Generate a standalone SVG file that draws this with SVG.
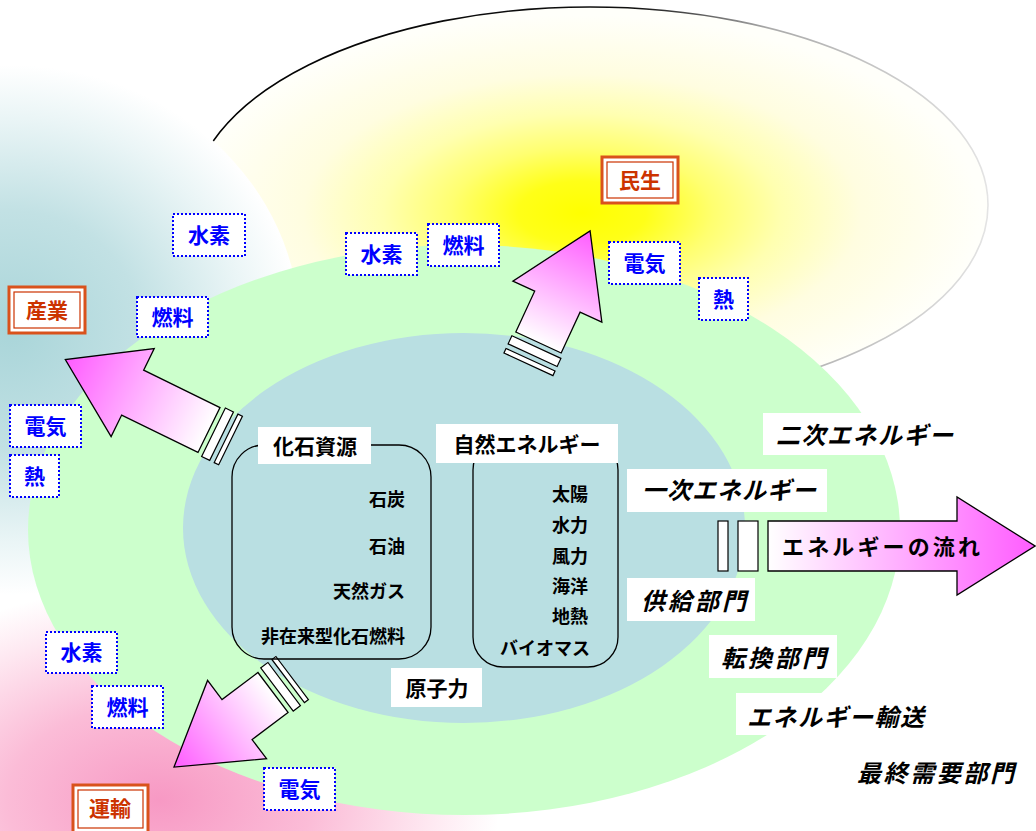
<svg xmlns="http://www.w3.org/2000/svg" width="1036" height="831" viewBox="0 0 1036 831">
<defs>
  <radialGradient id="gYellow" cx="0.49" cy="0.52" r="0.5">
    <stop offset="0" stop-color="#ffff00"/>
    <stop offset="0.16" stop-color="#ffff18"/>
    <stop offset="0.33" stop-color="#ffff70"/>
    <stop offset="0.5" stop-color="#ffffb0"/>
    <stop offset="0.7" stop-color="#fffde0"/>
    <stop offset="1" stop-color="#fffffa"/>
  </radialGradient>
  <linearGradient id="gOutline" gradientUnits="userSpaceOnUse" x1="200" y1="0" x2="990" y2="0">
    <stop offset="0" stop-color="#000"/>
    <stop offset="0.55" stop-color="#111"/>
    <stop offset="0.72" stop-color="#aaa"/>
    <stop offset="1" stop-color="#e4e4e4"/>
  </linearGradient>
  <radialGradient id="gTeal" cx="0.5" cy="0.5" r="0.5">
    <stop offset="0" stop-color="#a9d5d9"/>
    <stop offset="0.45" stop-color="#c2e1e4"/>
    <stop offset="0.8" stop-color="#eaf5f6"/>
    <stop offset="1" stop-color="#ffffff"/>
  </radialGradient>
  <radialGradient id="gPink" cx="0.5" cy="0.5" r="0.5">
    <stop offset="0" stop-color="#f799c4"/>
    <stop offset="0.45" stop-color="#fbbcd7"/>
    <stop offset="0.8" stop-color="#fee8f1"/>
    <stop offset="1" stop-color="#ffffff"/>
  </radialGradient>
  <linearGradient id="gArrow" x1="0" y1="0" x2="1" y2="0">
    <stop offset="0" stop-color="#ffffff"/>
    <stop offset="1" stop-color="#ff5cff"/>
  </linearGradient>
  <style>
    text { font-family: 'Liberation Sans', 'Noto Sans CJK JP', sans-serif; font-weight: bold; dominant-baseline: central; }
    .blue rect { fill: #ffffff; stroke: #0000ff; stroke-width: 2; stroke-dasharray: 2 2; }
    .blue text { fill: #0000ff; font-size: 21px; text-anchor: middle; }
    .sector .o { fill: #ffffff; stroke: #d9521c; stroke-width: 3; }
    .sector .i { fill: none; stroke: #cc3300; stroke-width: 1.2; }
    .sector text { fill: #cc3300; font-size: 21px; text-anchor: middle; }
    .wbox { fill: #ffffff; }
    .head { fill: #000; font-size: 21px; text-anchor: middle; }
    .item { fill: #000; font-size: 18px; text-anchor: end; }
    .ital { fill: #000; font-size: 24px; font-style: italic; }
    .frame { fill: none; stroke: #000; stroke-width: 1.3; }
    .arr { fill: url(#gArrow); stroke: #000; stroke-width: 1.3; stroke-linejoin: miter; }
    .bar { fill: #ffffff; stroke: #000; stroke-width: 1.2; }
  </style>
</defs>

<rect width="1036" height="831" fill="#ffffff"/>

<g id="background">
  <ellipse cx="590" cy="205" rx="398" ry="198" fill="url(#gYellow)" stroke="url(#gOutline)" stroke-width="1.6"/>
  <ellipse cx="10" cy="330" rx="290" ry="265" fill="url(#gTeal)"/>
  <ellipse cx="160" cy="800" rx="340" ry="215" fill="url(#gPink)"/>
  <ellipse cx="464" cy="530" rx="436" ry="285" fill="#ccffcc"/>
  <ellipse cx="464" cy="528" rx="281" ry="195" fill="#b9dfe2"/>
</g>

<g id="connectors">
  <g id="arrow-sangyo" transform="translate(209,430) rotate(206.1)">
    <rect class="bar" x="-24" y="-27" width="5" height="54"/>
    <rect class="bar" x="-14" y="-27" width="9" height="54"/>
    <polygon class="arr" points="0,-25 85,-25 85,-49 160,0 85,49 85,25 0,25"/>
  </g>
  <g id="arrow-minsei" transform="translate(538.5,342.5) rotate(-65.2)">
    <rect class="bar" x="-24" y="-27" width="5" height="54"/>
    <rect class="bar" x="-14" y="-27" width="9" height="54"/>
    <polygon class="arr" points="0,-25 45,-25 45,-49 123,0 45,49 45,25 0,25"/>
  </g>
  <g id="arrow-yuso" transform="translate(273,692.5) rotate(143)">
    <rect class="bar" x="-24" y="-27" width="5" height="54"/>
    <rect class="bar" x="-14" y="-27" width="9" height="54"/>
    <polygon class="arr" points="0,-25 45,-25 45,-49 124,0 45,49 45,25 0,25"/>
  </g>
</g>

<g id="legend-flow" transform="translate(768,546)">
  <rect class="bar" x="-50" y="-25" width="10" height="50"/>
  <rect class="bar" x="-30" y="-25" width="20" height="50"/>
  <polygon class="arr" points="0,-25 189,-25 189,-49 267,0 189,49 189,25 0,25"/>
  <text x="113" y="1" style="font-size:22px;" textLength="198" lengthAdjust="spacing" text-anchor="middle">エネルギーの流れ</text>
</g>

<g id="fossil">
  <rect class="frame" x="232" y="445" width="199" height="214" rx="32" ry="32"/>
  <rect class="wbox" x="258" y="427" width="113" height="37"/>
  <text class="head" x="315" y="446">化石資源</text>
  <text class="item" x="405" y="500">石炭</text>
  <text class="item" x="405" y="547">石油</text>
  <text class="item" x="405" y="592">天然ガス</text>
  <text class="item" x="405" y="637">非在来型化石燃料</text>
</g>

<g id="natural">
  <rect class="frame" x="473" y="440" width="145" height="227" rx="30" ry="30"/>
  <rect class="wbox" x="436" y="424" width="182" height="39"/>
  <text class="head" x="527" y="444">自然エネルギー</text>
  <text class="item" x="588" y="495">太陽</text>
  <text class="item" x="588" y="526">水力</text>
  <text class="item" x="588" y="557">風力</text>
  <text class="item" x="588" y="587">海洋</text>
  <text class="item" x="588" y="617">地熱</text>
  <text class="item" x="590" y="649">バイオマス</text>
</g>

<g id="nuclear">
  <rect class="wbox" x="391" y="668" width="91" height="39"/>
  <text class="head" x="437" y="688">原子力</text>
</g>

<g id="sector-sangyo" class="sector">
  <rect class="o" x="9" y="287" width="76" height="46"/>
  <rect class="i" x="14" y="292" width="66" height="36"/>
  <text x="47" y="310">産業</text>
</g>
<g id="sector-minsei" class="sector">
  <rect class="o" x="602" y="157" width="76" height="46"/>
  <rect class="i" x="607" y="162" width="66" height="36"/>
  <text x="640" y="180">民生</text>
</g>
<g id="sector-yuso" class="sector">
  <rect class="o" x="73" y="785" width="75" height="48"/>
  <rect class="i" x="78" y="790" width="65" height="38"/>
  <text x="110" y="808">運輸</text>
</g>

<g id="sangyo-suiso" class="blue"><rect x="173" y="214" width="72" height="42"/><text x="209" y="235">水素</text></g>
<g id="sangyo-nenryo" class="blue"><rect x="137" y="297" width="71" height="40"/><text x="172.5" y="317">燃料</text></g>
<g id="sangyo-denki" class="blue"><rect x="10" y="405" width="71" height="42"/><text x="45.5" y="426">電気</text></g>
<g id="sangyo-netsu" class="blue"><rect x="10" y="455" width="49" height="42"/><text x="34.5" y="476">熱</text></g>
<g id="minsei-suiso" class="blue"><rect x="346" y="233" width="71" height="42"/><text x="381.5" y="254">水素</text></g>
<g id="minsei-nenryo" class="blue"><rect x="428" y="224" width="71" height="42"/><text x="463.5" y="245">燃料</text></g>
<g id="minsei-denki" class="blue"><rect x="609" y="242" width="71" height="42"/><text x="644.5" y="263">電気</text></g>
<g id="minsei-netsu" class="blue"><rect x="699" y="278" width="49" height="42"/><text x="723.5" y="299">熱</text></g>
<g id="yuso-suiso" class="blue"><rect x="46" y="632" width="71" height="41"/><text x="81.5" y="652.5">水素</text></g>
<g id="yuso-nenryo" class="blue"><rect x="92" y="686" width="71" height="42"/><text x="127.5" y="707">燃料</text></g>
<g id="yuso-denki" class="blue"><rect x="264" y="768" width="71" height="42"/><text x="299.5" y="789">電気</text></g>

<g id="label-niji">
  <rect class="wbox" x="763" y="413" width="200" height="42"/>
  <text class="ital" x="776" y="435" textLength="177" lengthAdjust="spacing">二次エネルギー</text>
</g>
<g id="label-ichiji">
  <rect class="wbox" x="627" y="469" width="200" height="43"/>
  <text class="ital" x="642" y="490" textLength="174" lengthAdjust="spacing">一次エネルギー</text>
</g>
<g id="label-kyokyu">
  <rect class="wbox" x="627" y="578" width="128" height="43"/>
  <text class="ital" x="641" y="601" textLength="105" lengthAdjust="spacing">供給部門</text>
</g>
<g id="label-tenkan">
  <rect class="wbox" x="709" y="635" width="128" height="43"/>
  <text class="ital" x="721" y="658" textLength="105" lengthAdjust="spacing">転換部門</text>
</g>
<g id="label-yuso">
  <rect class="wbox" x="736" y="693" width="204" height="42"/>
  <text class="ital" x="747" y="717" textLength="177" lengthAdjust="spacing">エネルギー輸送</text>
</g>
<g id="label-saishu">
  <text class="ital" x="857" y="773" textLength="157" lengthAdjust="spacing">最終需要部門</text>
</g>
</svg>
